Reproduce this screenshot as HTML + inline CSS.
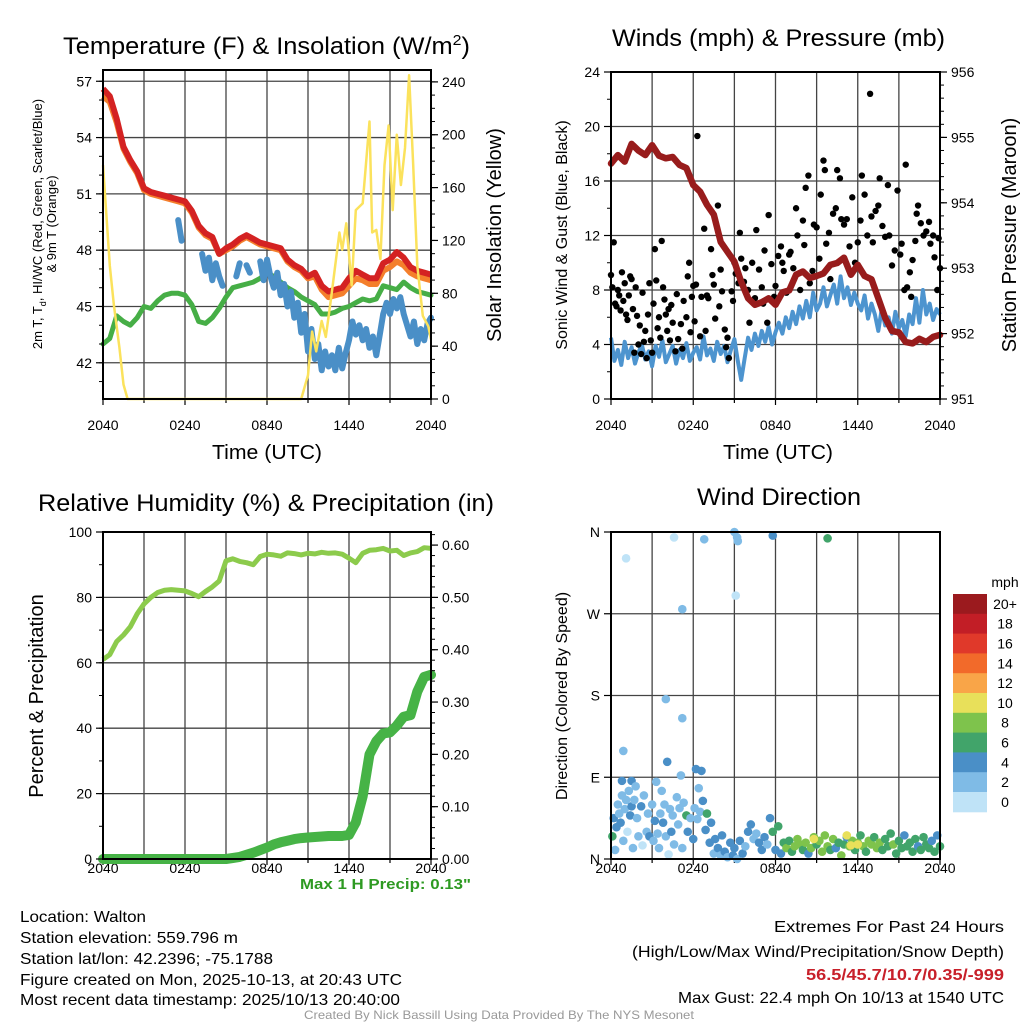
<!DOCTYPE html>
<html><head><meta charset="utf-8"><style>
html,body{margin:0;padding:0;background:#fff}
svg{display:block;font-family:"Liberation Sans",sans-serif}
</style></head><body>
<svg id="c" width="1024" height="1024" viewBox="0 0 1024 1024" xmlns="http://www.w3.org/2000/svg">
<rect width="1024" height="1024" fill="#fff"/>
<g id="g"></g>
<text x="63" y="54" font-size="24" textLength="407" lengthAdjust="spacingAndGlyphs">Temperature (F) &amp; Insolation (W/m<tspan dy="-9" font-size="15">2</tspan><tspan dy="9">)</tspan></text>
<text x="612" y="46" font-size="24" textLength="333" lengthAdjust="spacingAndGlyphs">Winds (mph) &amp; Pressure (mb)</text>
<text x="38" y="511" font-size="24" textLength="456" lengthAdjust="spacingAndGlyphs">Relative Humidity (%) &amp; Precipitation (in)</text>
<text x="697" y="505" font-size="24" textLength="164" lengthAdjust="spacingAndGlyphs">Wind Direction</text>
<text x="212" y="459" font-size="20" textLength="110" lengthAdjust="spacingAndGlyphs">Time (UTC)</text>
<text x="723" y="459" font-size="20" textLength="110" lengthAdjust="spacingAndGlyphs">Time (UTC)</text>
<text transform="translate(42,224) rotate(-90)" font-size="13" text-anchor="middle">2m T, T<tspan dy="4" font-size="9">d</tspan><tspan dy="-4">, HI/WC (Red, Green, Scarlet/Blue)</tspan></text>
<text transform="translate(56,224) rotate(-90)" font-size="13" text-anchor="middle">&amp; 9m T (Orange)</text>
<text transform="translate(501,235) rotate(-90)" font-size="20" text-anchor="middle">Solar Insolation (Yellow)</text>
<text transform="translate(567,235) rotate(-90)" font-size="16" text-anchor="middle">Sonic Wind &amp; Gust (Blue, Black)</text>
<text transform="translate(1016,235) rotate(-90)" font-size="20" text-anchor="middle">Station Pressure (Maroon)</text>
<text transform="translate(43,696) rotate(-90)" font-size="20" text-anchor="middle">Percent &amp; Precipitation</text>
<text transform="translate(567,696) rotate(-90)" font-size="16" text-anchor="middle">Direction (Colored By Speed)</text>
<text x="300" y="889" font-size="15" font-weight="bold" fill="#2e9a22" textLength="171" lengthAdjust="spacingAndGlyphs">Max 1 H Precip: 0.13"</text>
<g font-size="16">
<text x="20" y="922" textLength="126" lengthAdjust="spacingAndGlyphs">Location: Walton</text>
<text x="20" y="943" textLength="218" lengthAdjust="spacingAndGlyphs">Station elevation: 559.796 m</text>
<text x="20" y="964" textLength="253" lengthAdjust="spacingAndGlyphs">Station lat/lon: 42.2396; -75.1788</text>
<text x="20" y="985" textLength="382" lengthAdjust="spacingAndGlyphs">Figure created on Mon, 2025-10-13, at 20:43 UTC</text>
<text x="20" y="1005" textLength="380" lengthAdjust="spacingAndGlyphs">Most recent data timestamp: 2025/10/13 20:40:00</text>
</g>
<g font-size="16">
<text x="774" y="932" textLength="230" lengthAdjust="spacingAndGlyphs">Extremes For Past 24 Hours</text>
<text x="632" y="957" textLength="372" lengthAdjust="spacingAndGlyphs">(High/Low/Max Wind/Precipitation/Snow Depth)</text>
<text x="806" y="980" font-weight="bold" fill="#c8202a" textLength="198" lengthAdjust="spacingAndGlyphs">56.5/45.7/10.7/0.35/-999</text>
<text x="678" y="1003" textLength="326" lengthAdjust="spacingAndGlyphs">Max Gust: 22.4 mph On 10/13 at 1540 UTC</text>
</g>
<text x="304" y="1019" font-size="12" fill="#999" textLength="390" lengthAdjust="spacingAndGlyphs">Created By Nick Bassill Using Data Provided By The NYS Mesonet</text>
</svg>
<script>
// ---------- data ----------
const xTickLabels = ["2040","0240","0840","1440","2040"];
const tempTicks = [42,45,48,51,54,57];
const solarTicks = [0,40,80,120,160,200,240];
const windTicks = [0,4,8,12,16,20,24];
const presTicks = [951,952,953,954,955,956];
const rhTicks = [0,20,40,60,80,100];
const precipTicks = ["0.00","0.10","0.20","0.30","0.40","0.50","0.60"];
const dirTicks = ["N","E","S","W","N"];
const speedBins = ["0","2","4","6","8","10","12","14","16","18","20+"];
const speedColors = ["#bfe3f7","#7fbbe6","#4a8fc7","#41a46a","#7ec34c","#e8e05a","#f9a548","#f26a2a","#e0392a","#c21e26","#9b1a1e"];

// half-hourly series (h = i*0.5)
const airTemp = [56.6,56.2,55.0,53.5,52.8,52.2,51.3,51.1,51.0,50.9,50.8,50.7,50.6,50.1,49.3,48.9,48.7,47.8,48.1,48.3,48.6,48.8,48.6,48.4,48.3,48.2,48.1,47.5,47.2,47.0,46.6,46.8,46.1,45.8,45.9,46.0,46.5,46.9,46.7,46.5,46.5,47.3,47.5,47.9,47.6,47.1,46.9,46.8,46.7];
const temp9m = [56.2,55.9,54.8,53.4,52.7,52.1,51.2,51.0,50.9,50.8,50.7,50.6,50.5,50.0,49.2,48.8,48.6,47.8,48.0,48.2,48.5,48.7,48.5,48.3,48.2,48.1,48.0,47.4,47.1,46.9,46.5,46.6,45.9,45.5,45.6,45.7,46.1,46.5,46.4,46.2,46.2,46.9,47.1,47.4,47.2,46.8,46.6,46.5,46.4];
const dewPoint = [43.0,43.3,44.5,44.2,44.0,44.4,45.0,44.9,45.3,45.6,45.7,45.7,45.6,45.1,44.2,44.1,44.4,44.9,45.5,46.0,46.1,46.2,46.3,46.5,46.8,46.6,46.3,46.0,45.8,45.5,45.3,45.1,44.6,44.6,44.7,44.9,45.0,45.2,45.4,45.3,45.4,46.1,46.0,45.9,46.3,46.0,45.8,45.7,45.6];
// quarter-hourly (h = i*0.25)
const windChill = [null,null,null,null,null,null,null,null,null,null,null,null,null,null,null,null,null,null,null,null,null,null,49.6,48.5,null,48.8,null,null,null,47.8,46.9,47.6,46.4,47.3,46.6,46.1,null,null,null,46.6,47.3,null,47.2,46.8,null,null,47.4,46.4,47.5,46.6,46.0,46.8,45.6,46.2,45.0,45.8,44.4,45.2,43.6,44.6,42.6,43.8,42.2,43.0,41.6,42.6,41.8,42.4,41.6,42.8,41.7,42.5,43.2,44.2,43.5,44.0,43.2,43.8,42.8,43.4,42.4,43.5,44.6,45.2,44.6,45.4,44.9,45.5,44.6,44.0,43.4,44.2,43.0,43.8,43.2,44.1,44.4];
const solarHours = [0,0.2,0.5,0.8,1.2,1.5,1.8,14.5,15,15.3,15.6,16,16.3,16.7,17.3,17.5,17.8,18.2,18.5,19,19.5,19.7,20,20.3,20.6,20.9,21.2,21.5,21.8,22.1,22.4,22.7,23,23.4,23.8,24];
const solarVals = [177,147,101,71,39,11,0,0,18,51,36,59,47,77,126,113,133,86,143,148,210,126,128,106,177,207,143,200,162,190,245,177,101,63,55,45];

const pressure = [954.6,954.73,954.63,954.9,954.8,954.73,954.88,954.72,954.68,954.7,954.58,954.53,954.27,954.17,953.97,953.82,953.4,953.25,953.1,952.79,952.54,952.44,952.48,952.54,952.44,952.63,952.66,952.9,952.95,952.85,952.88,952.92,953.05,953.08,953.16,952.9,953.05,952.88,952.83,952.54,952.24,952.04,952.02,951.87,951.85,951.92,951.87,951.95,951.98];
const sonicWind = [4.5,2.8,3.6,2.5,4.2,3.0,3.8,2.6,3.4,4.0,2.9,3.5,2.4,3.9,3.1,4.3,2.7,3.3,3.9,2.6,3.6,3.0,4.1,2.8,3.4,3.8,2.9,4.6,3.2,3.7,2.8,4.2,3.3,3.9,2.7,3.6,4.4,2.8,1.4,3.0,4.5,3.6,4.8,3.9,5.0,4.2,5.3,4.0,4.9,5.6,4.8,6.0,5.2,6.4,5.5,6.8,5.9,7.2,6.0,7.8,6.5,7.0,8.2,6.8,7.6,8.4,7.0,9.0,7.4,8.2,6.9,7.8,7.0,6.5,7.6,5.9,7.0,6.2,5.0,6.6,5.4,6.0,4.8,6.4,5.2,5.8,4.6,6.2,5.5,7.4,5.6,8.0,6.2,7.0,5.8,6.6,6.2];
const gustHours = [0.0,0.1,0.2,0.3,0.4,0.5,0.6,0.7,0.8,0.9,1.0,1.1,1.2,1.3,1.4,1.5,1.6,1.7,1.8,1.9,2.0,2.1,2.2,2.3,2.4,2.5,2.6,2.7,2.8,2.9,3.0,3.1,3.2,3.3,3.4,3.5,3.6,3.7,3.8,3.9,4.0,4.1,4.2,4.3,4.4,4.5,4.7,4.8,4.9,5.1,5.2,5.3,5.5,5.6,5.7,5.8,5.9,6.0,6.1,6.2,6.3,6.5,6.6,6.8,6.9,7.0,7.1,7.3,7.4,7.5,7.6,7.8,7.9,8.0,8.1,8.3,8.4,8.5,8.6,8.8,8.9,9.0,9.1,9.3,9.4,9.5,9.7,9.8,10.0,10.1,10.3,10.5,10.6,10.8,11.0,11.1,11.2,11.4,11.5,11.7,11.9,12.0,12.2,12.4,12.5,12.6,12.8,13.0,13.1,13.3,13.5,13.6,13.8,14.0,14.1,14.2,14.4,14.5,14.7,14.8,15.0,15.2,15.3,15.5,15.6,15.7,15.9,16.0,16.2,16.4,16.5,16.7,16.8,17.0,17.2,17.4,17.6,17.8,18.0,18.2,18.3,18.5,18.7,18.9,19.0,19.1,19.3,19.5,19.6,19.8,20.0,20.2,20.3,20.5,20.7,20.9,21.1,21.2,21.4,21.5,21.6,21.8,21.9,22.0,22.2,22.3,22.4,22.6,22.8,23.0,23.2,23.3,23.5,23.6,23.8,23.9,24.0];
const gustVals = [9.1,8.2,11.5,7.0,6.8,8.0,7.6,6.5,9.3,7.2,8.5,6.2,5.8,7.6,9.0,8.8,6.6,3.4,8.2,6.1,4.0,5.4,3.3,7.8,4.2,5.0,3.0,6.2,8.5,4.3,3.4,7.0,11.0,8.7,5.2,6.0,4.5,11.6,8.2,7.3,6.2,5.0,6.6,4.3,6.9,5.6,3.5,7.7,4.4,5.5,3.7,7.2,6.0,9.0,10.0,4.9,7.5,8.3,5.7,8.4,19.3,4.6,7.5,12.5,5.0,7.6,7.4,11.0,9.1,8.4,5.9,14.2,6.8,9.5,7.9,5.1,3.8,4.5,3.0,7.9,7.2,10.0,9.2,8.5,12.2,10.3,8.6,9.6,8.0,5.6,10.0,7.4,12.4,9.5,8.2,7.0,10.9,5.6,13.5,9.9,7.5,8.3,10.5,11.2,10.0,9.4,7.8,10.6,10.8,9.6,14.0,12.0,8.0,13.1,11.3,15.5,16.4,8.5,9.4,12.8,12.6,10.3,15.0,17.5,16.8,11.4,12.2,8.8,13.6,14.0,16.8,16.2,13.2,12.8,13.2,11.2,14.8,10.0,11.5,13.1,16.4,15.0,12.0,22.4,13.4,11.5,13.8,14.2,16.2,12.7,11.9,15.7,12.0,9.8,10.9,15.3,10.6,11.4,8.0,17.2,8.2,9.3,7.5,10.2,11.6,13.6,14.2,12.9,12.0,12.3,13.0,11.4,12.0,10.4,8.0,11.8,9.6];

const relHum = [61,62.5,66.5,68.5,71,75,78,80,81.5,82.2,82.4,82.2,82,81.2,80.2,81.8,83.2,85,91.2,91.8,91,90.6,90.0,92.5,93.2,93.0,92.6,93.6,93.4,93.0,93.5,93.3,93.8,93.5,93.6,93.2,92.0,90.6,93.5,94.4,94.6,95.0,94.2,94.4,92.8,93.6,94.0,95.2,95.0];
const precip = [0,0,0,0,0,0,0,0,0,0,0,0,0,0,0,0,0,0,0,0.002,0.004,0.008,0.012,0.017,0.022,0.028,0.032,0.035,0.038,0.04,0.041,0.042,0.043,0.044,0.044,0.044,0.046,0.07,0.12,0.2,0.225,0.24,0.242,0.255,0.272,0.275,0.32,0.348,0.352];

const dirHours = [1.1,4.6,6.8,9.0,9.2,9.25,9.1,5.2,11.8,15.8,4.0,5.2,0.9,4.1,5.1,6.2,6.6,0.8,1.5,0.1,0.2,0.3,0.4,0.5,0.6,0.7,0.8,0.9,1.0,1.1,1.2,1.3,1.4,1.5,1.6,1.7,1.8,1.9,2.0,2.2,2.3,2.4,2.6,2.7,2.8,3.0,3.1,3.2,3.3,3.4,3.5,3.6,3.7,3.8,3.9,4.0,4.2,4.3,4.4,4.5,4.6,4.8,4.9,5.0,5.2,5.3,5.5,5.6,5.8,6.0,6.1,6.3,6.4,6.5,6.7,6.9,7.0,7.2,7.3,7.5,7.6,7.8,8.0,8.1,8.3,8.5,8.7,8.9,9.0,9.2,9.4,9.6,9.8,10.0,10.2,10.4,10.6,10.8,11.0,11.2,11.4,11.6,11.8,12.0,12.2,12.4,12.6,12.8,13.0,13.2,13.4,13.6,13.8,14.0,14.2,14.4,14.6,14.8,15.0,15.2,15.4,15.6,15.8,16.0,16.2,16.4,16.6,16.8,17.0,17.2,17.4,17.6,17.8,18.0,18.2,18.4,18.6,18.8,19.0,19.2,19.4,19.6,19.8,20.0,20.2,20.4,20.6,20.8,21.0,21.2,21.4,21.6,21.8,22.0,22.2,22.4,22.6,22.8,23.0,23.2,23.4,23.6,23.8,24.0,14.8,17.2,18.0,17.5];
const dirDeg = [331,354,352,360,354,350,290,275,356,353,176,155,119,107,92,99,97,86,86,25,45,10,35,60,50,40,70,20,55,65,30,75,48,58,12,65,80,45,25,58,15,70,30,50,25,60,20,42,85,28,12,50,75,40,60,25,5,55,30,48,16,68,38,56,12,62,48,30,45,22,56,44,78,52,64,32,50,18,40,6,22,12,4,26,8,2,18,4,12,0,20,6,14,30,38,22,28,18,10,24,16,45,30,10,36,6,18,12,20,8,14,22,16,10,18,6,12,24,16,20,8,26,14,10,22,12,18,4,16,24,14,20,10,18,26,14,8,20,16,24,12,18,10,22,14,28,16,6,20,12,26,14,18,8,22,14,10,24,16,12,20,8,26,14,22,26,16,15];
const dirSpeed = [1,1,2.5,3.5,2.5,2.5,1,2.5,4,6.5,2.5,2.5,2.5,4,2.5,4,4,4,4,6,4,2,5,2,3,4,2,2,3,2,1.5,2,4,4,2,2,2,2,2,4,1,2,2,2,4,2,2,4,2,2,2,2,2,4,2,2,1,2,4,2,2,2,2,2,2,2,6,4,2,4,2,2,2,2,4,4,6,4,4,2,4,4,2,4,4,2,4,4,4,2,4,4,2,4,4,2,2,4,4,4,2,4,6,4,6,4,6,8,6,6,8,8,8,6,8,4,8,8,6,8,8,8,8,6,8,4,6,8,6,4,8,8,6,8,6,8,6,8,8,6,8,8,6,6,6,6,8,6,6,6,4,6,6,6,6,4,6,6,6,6,4,6,4,6,10,10,10,10];

// ---------- drawing ----------
const NS="http://www.w3.org/2000/svg";
const G=document.getElementById('g');
function el(tag,attrs,parent){const e=document.createElementNS(NS,tag);for(const k in attrs)e.setAttribute(k,attrs[k]);(parent||G).appendChild(e);return e;}
function scale(d0,d1,r0,r1){return v=>r0+(v-d0)/(d1-d0)*(r1-r0);}
function pathFrom(xs,ys){let d="",pen=false;for(let i=0;i<xs.length;i++){if(ys[i]===null||ys[i]===undefined){pen=false;continue;}d+=(pen?"L":"M")+xs[i].toFixed(1)+","+ys[i].toFixed(1);pen=true;}return d;}

const P=[
 {x0:103,x1:431,y0:70,y1:399,lab:430},
 {x0:611,x1:940,y0:72,y1:399,lab:430},
 {x0:103,x1:431,y0:532,y1:859,lab:873},
 {x0:611,x1:940,y0:532,y1:859,lab:873}
];
P.forEach(p=>{p.hx=scale(0,24,p.x0,p.x1);});

function frame(p,name,hLines){
  const g=el('g',{});
  
  
  for(let h=3;h<24;h+=3){const l=el('line',{x1:p.hx(h),x2:p.hx(h),y1:p.y0,y2:p.y1,stroke:'#444','stroke-width':1.3},g);
    }
  hLines.forEach(y=>{const l=el('line',{x1:p.x0,x2:p.x1,y1:y,y2:y,stroke:'#444','stroke-width':1.3},g);
    });
  for(let h=0;h<=24;h+=3){el('line',{x1:p.hx(h),x2:p.hx(h),y1:p.y1,y2:p.y1+(h%6===0?6:4),stroke:'#000','stroke-width':1.2},g);}
  xTickLabels.forEach((t,i)=>{const tx=el('text',{x:p.hx(i*6),y:p.lab,'font-size':14,'text-anchor':'middle'},g);tx.textContent=t;
    });
  return g;
}
function border(p){el('rect',{x:p.x0,y:p.y0,width:p.x1-p.x0,height:p.y1-p.y0,fill:'none',stroke:'#000','stroke-width':2});}
function yAxis(p,side,vals,sc,labels,minorStep,minorRange){
  const x=side==='L'?p.x0:p.x1,dir=side==='L'?-1:1;
  if(minorStep){for(let v=minorRange[0];v<=minorRange[1]+1e-9;v+=minorStep){const y=sc(v);if(y<p.y0-0.5||y>p.y1+0.5)continue;el('line',{x1:x,x2:x+dir*4,y1:y,y2:y,stroke:'#000','stroke-width':1});}}
  vals.forEach((v,i)=>{const y=sc(v);el('line',{x1:x,x2:x+dir*7,y1:y,y2:y,stroke:'#000','stroke-width':1.2});
    const t=el('text',{x:x+dir*11,y:y+5,'font-size':14,'text-anchor':side==='L'?'end':'start'});t.textContent=labels?labels[i]:v;
    });
}

// ---- Panel 1 ----
{const p=P[0];const ty=scale(40.07,57.6,399,70);const sy=scale(0,249,399,70);
 frame(p,'temperature',[70].concat(tempTicks.map(ty)));
 const hh=airTemp.map((_,i)=>p.hx(i*0.5));
 let e;
 e=el('path',{d:pathFrom(hh,dewPoint.map(ty)),fill:'none',stroke:'#46ae46','stroke-width':5,'stroke-linejoin':'round','stroke-linecap':'round'});
 
 e=el('path',{d:pathFrom(windChill.map((_,i)=>p.hx(i*0.25)),windChill.map(v=>v===null?null:ty(v))),fill:'none',stroke:'#4a8fc7','stroke-width':6,'stroke-linejoin':'round','stroke-linecap':'round'});
 
 e=el('path',{d:pathFrom(hh,temp9m.map(ty)),fill:'none',stroke:'#f47f2c','stroke-width':6,'stroke-linejoin':'round'});
 
 e=el('path',{d:pathFrom(hh,airTemp.map(ty)),fill:'none',stroke:'#d42222','stroke-width':6,'stroke-linejoin':'round'});
 
 e=el('path',{d:pathFrom(solarHours.map(p.hx),solarVals.map(sy)),fill:'none',stroke:'#fbe25c','stroke-width':2.5,'stroke-linejoin':'round'});
 
 border(p);
 yAxis(p,'L',tempTicks,ty,null,1,[41,57]);
 yAxis(p,'R',solarTicks,sy,null,10,[0,240]);
}
// ---- Panel 2 ----
{const p=P[1];const wy=scale(0,24,399,72);const py=scale(951,956,399,72);
 frame(p,'winds',windTicks.map(wy));
 let e=el('path',{d:pathFrom(sonicWind.map((_,i)=>p.hx(i*0.25)),sonicWind.map(wy)),fill:'none',stroke:'#4d94cf','stroke-width':4,'stroke-linejoin':'round'});
 
 gustHours.forEach((h,i)=>{const c=el('circle',{cx:p.hx(h),cy:wy(gustVals[i]),r:3.2,fill:'#000'});
   });
 e=el('path',{d:pathFrom(pressure.map((_,i)=>p.hx(i*0.5)),pressure.map(py)),fill:'none',stroke:'#981c1c','stroke-width':6.5,'stroke-linejoin':'round','stroke-linecap':'round'});
 
 border(p);
 yAxis(p,'L',windTicks,wy,null,2,[0,24]);
 yAxis(p,'R',presTicks,py,null,0.2,[951,956]);
}
// ---- Panel 3 ----
{const p=P[2];const ry=scale(0,100,859,532);const qy=scale(0,0.625,859,532);
 frame(p,'humidity',rhTicks.map(ry));
 const hh=relHum.map((_,i)=>p.hx(i*0.5));
 let e=el('path',{d:pathFrom(hh,relHum.map(ry)),fill:'none',stroke:'#8ccb4c','stroke-width':5,'stroke-linejoin':'round'});
 
 e=el('path',{d:pathFrom(hh,precip.map(qy)),fill:'none',stroke:'#46b346','stroke-width':10,'stroke-linejoin':'round','stroke-linecap':'round'});
 
 border(p);
 yAxis(p,'L',rhTicks,ry,null,10,[0,100]);
 yAxis(p,'R',precipTicks.map(Number),qy,precipTicks,0.02,[0,0.62]);
}
// ---- Panel 4 ----
{const p=P[3];const dy=scale(0,360,859,532);
 frame(p,'wind-direction',[90,180,270].map(dy));
 dirHours.forEach((h,i)=>{const b=Math.min(10,Math.floor(dirSpeed[i]/2));
   const c=el('circle',{cx:p.hx(h),cy:dy(dirDeg[i]),r:4.3,fill:speedColors[b]});
   });
 border(p);
 yAxis(p,'L',[0,90,180,270,360],dy,dirTicks,null,null);
 const cb=el('g',{});
 
 const t=el('text',{x:1005,y:587,'font-size':14,'text-anchor':'middle'},cb);t.textContent='mph';
 const n=speedBins.length,top=594,bh=19.8;
 speedBins.forEach((lab,k)=>{const i=n-1-k;const y=top+k*bh;
   const r=el('rect',{x:953,y:y,width:34,height:bh+0.5,fill:speedColors[i]},cb);
   
   const tx=el('text',{x:1005,y:y+bh/2+5,'font-size':14,'text-anchor':'middle'},cb);tx.textContent=speedBins[i];
   });
}
</script>
</body></html>
